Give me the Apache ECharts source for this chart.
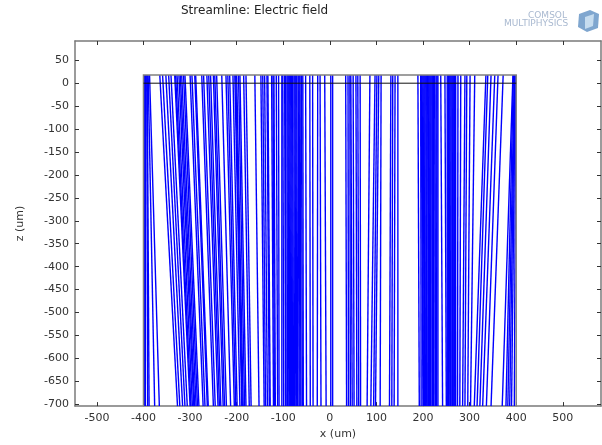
<!DOCTYPE html>
<html>
<head>
<meta charset="utf-8">
<script src="https://cdn.jsdelivr.net/npm/echarts@6/dist/echarts.min.js"></script>
<style>
html,body{margin:0;padding:0;background:#fff;}
#chart{width:602px;height:445px;}
</style>
</head>
<body>
<div id="chart"></div>
<script>
// ---- data ----
const titleText = "Streamline: Electric field";
const xName = "x (um)";
const zName = "z (um)";
const xTicks = [-500, -400, -300, -200, -100, 0, 100, 200, 300, 400, 500];
const zTicks = [50, 0, -50, -100, -150, -200, -250, -300, -350, -400, -450, -500, -550, -600, -650, -700];
const domainX = [-400, 400];
const domainTopZ = 18;
const domainBottomZ = -704;
const streamTopZ = 18;
const streamBottomZ = -704;
// streamline x positions (um) where each line meets the top and the bottom of the domain
const leftTopX = [-398,-396,-393,-392,-390,-387,-365,-359,-352,-346,-341,-333,-331,-328,-324,-321,-318,-314,-311,-300,-296,-290,-288,-275,-271,-264,-260,-256,-250,-247,-243,-232,-223,-219,-215,-208,-204,-202,-200,-196,-193,-185,-180,-161,-148,-144,-140,-135,-133,-125,-122,-120,-115,-110,-103,-101,-97,-95,-92,-90,-88,-86,-84,-82,-80,-77,-75,-73,-71,-68,-66,-64,-61,-58,-52,-43,-37,-26,-21,-11];
const leftBottomX = [-398,-396,-391,-388,-376,-366,-327,-322,-316,-311,-306,-300,-298,-295,-292,-290,-287,-284,-281,-272,-268,-263,-261,-250,-246,-240,-237,-234,-229,-226,-222,-213,-205,-202,-199,-193,-189,-188,-186,-183,-180,-173,-169,-152,-141,-138,-134,-130,-128,-121,-119,-117,-112,-109,-103,-99,-95,-94,-91,-88,-86,-84,-82,-80,-78,-76,-73,-71,-69,-66,-64,-62,-59,-57,-50,-42,-36,-27,-19,-8];
const rightTopX = [2,6,34,39,43,45,50,56,60,65,86,97,101,105,110,131,135,140,146,189,195,196,198,200,202,204,206,208,210,211,213,215,217,219,221,222,225,228,230,232,238,247,252,255,256,258,260,262,264,266,268,270,275,281,290,294,301,311,335,339,346,354,361,372,393,394,396,397,398,399];
const rightBottomX = [2,6,36,40,44,48,52,58,62,66,80,88,94,98,108,128,133,138,146,192,196,200,201,203,204,205,208,209,212,213,214,216,217,220,221,223,226,227,229,232,242,250,252,254,255,256,259,262,263,266,267,270,274,279,285,290,296,302,310,316,322,328,336,346,370,378,382,386,390,396];

// ---- build ----
const topX = leftTopX.concat(rightTopX);
const botX = leftBottomX.concat(rightBottomX);
const streamData = topX.map((x, i) => ({coords: [[x, streamTopZ], [botX[i], streamBottomZ]]}));

const boxData = [
  {coords: [[domainX[0], domainBottomZ], [domainX[0], domainTopZ], [domainX[1], domainTopZ], [domainX[1], domainBottomZ]]}
];
const zeroLine = [{coords: [[domainX[0], 0], [domainX[1], 0]]}];

const FONT = 'DejaVu Sans';
const axisCol = '#7a7a7a';
const labelCol = '#333';

const chart = echarts.init(document.getElementById('chart'), null, {renderer: 'canvas'});
chart.setOption({
  animation: false,
  backgroundColor: '#fff',
  title: {
    text: titleText, left: 181, top: 5, padding: 0,
    textStyle: {fontFamily: FONT, fontSize: 12, fontWeight: 'normal', color: '#222'}
  },
  grid: {left: 75, right: 1, top: 41, bottom: 33, show: false},
  xAxis: [{
    type: 'value', min: -547, max: 582, position: 'bottom',
    name: xName, nameLocation: 'middle', nameGap: 21,
    nameTextStyle: {fontFamily: FONT, fontSize: 11, color: labelCol},
    axisLine: {show: true, onZero: false, lineStyle: {color: axisCol, width: 1.5}},
    axisTick: {show: true, inside: true, length: 4, customValues: xTicks, lineStyle: {color: '#333'}},
    axisLabel: {customValues: xTicks, fontFamily: FONT, fontSize: 11, color: labelCol, margin: 7},
    splitLine: {show: false}
  }, {
    type: 'value', min: -547, max: 582, position: 'top',
    axisLine: {show: true, onZero: false, lineStyle: {color: axisCol, width: 1.5}},
    axisTick: {show: true, inside: true, length: 4, customValues: xTicks, lineStyle: {color: '#333'}},
    axisLabel: {show: false},
    splitLine: {show: false}
  }],
  yAxis: [{
    type: 'value', min: -704, max: 92, position: 'left',
    name: zName, nameLocation: 'middle', nameGap: 49, nameRotate: 90,
    nameTextStyle: {fontFamily: FONT, fontSize: 11, color: labelCol},
    axisLine: {show: true, onZero: false, lineStyle: {color: axisCol, width: 1.5}},
    axisTick: {show: true, inside: true, length: 4, customValues: zTicks, lineStyle: {color: '#333'}},
    axisLabel: {customValues: zTicks, fontFamily: FONT, fontSize: 11, color: labelCol, margin: 6},
    splitLine: {show: false}
  }, {
    type: 'value', min: -704, max: 92, position: 'right',
    axisLine: {show: true, onZero: false, lineStyle: {color: axisCol, width: 1.5}},
    axisTick: {show: true, inside: true, length: 4, customValues: zTicks, lineStyle: {color: '#333'}},
    axisLabel: {show: false},
    splitLine: {show: false}
  }],
  series: [{
    type: 'lines', coordinateSystem: 'cartesian2d', xAxisIndex: 0, yAxisIndex: 0,
    polyline: true, silent: true, z: 2,
    lineStyle: {color: '#0000ff', width: 1.4, opacity: 1},
    data: streamData
  }, {
    type: 'lines', coordinateSystem: 'cartesian2d', xAxisIndex: 0, yAxisIndex: 0,
    polyline: true, silent: true, z: 3,
    lineStyle: {color: '#808080', width: 1.5, opacity: 1},
    data: boxData
  }, {
    type: 'lines', coordinateSystem: 'cartesian2d', xAxisIndex: 0, yAxisIndex: 0,
    polyline: true, silent: true, z: 4,
    lineStyle: {color: '#111', width: 1, opacity: 1},
    data: zeroLine
  }],
  graphic: [
    {type: 'text', left: 528, top: 11, style: {text: 'COMSOL', fontFamily: FONT, fontSize: 9, fill: '#a9b9d0'}},
    {type: 'text', left: 504, top: 19, style: {text: 'MULTIPHYSICS', fontFamily: FONT, fontSize: 9, fill: '#a9b9d0'}},
    {type: 'polygon', shape: {points: [[579, 14], [590, 10], [599, 14], [598, 28], [587, 32], [578, 27]]}, style: {fill: '#7fa6cf'}},
    {type: 'polygon', shape: {points: [[585, 17], [594, 14], [593, 26], [585, 29]]}, style: {fill: '#c6dcef'}}
  ]
});
</script>
</body>
</html>
